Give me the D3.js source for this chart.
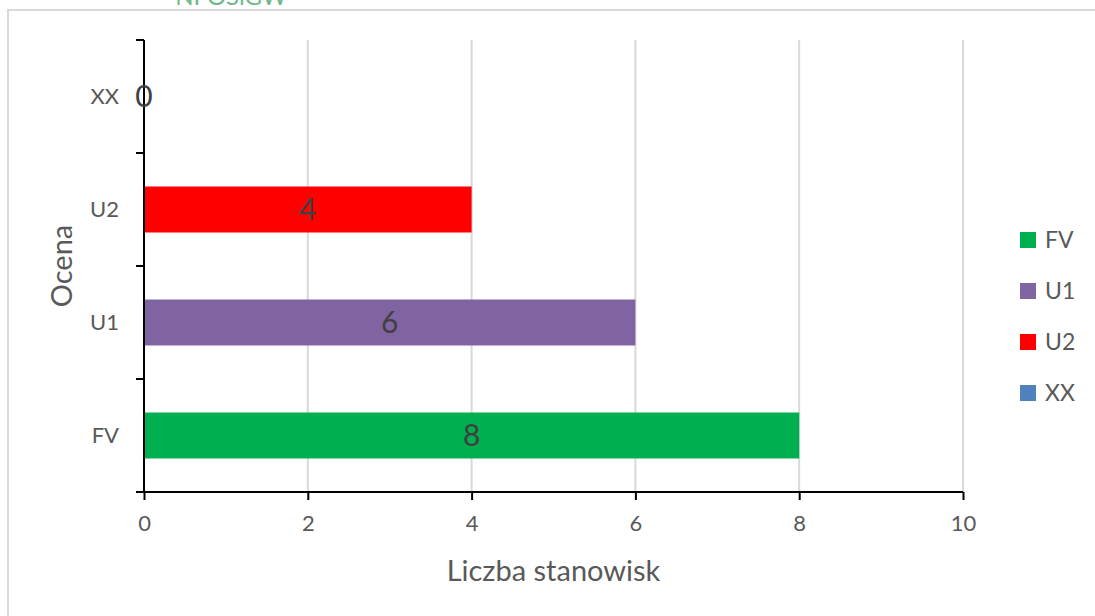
<!DOCTYPE html>
<html>
<head>
<meta charset="utf-8">
<script src="https://cdn.jsdelivr.net/npm/d3@7"></script>
<style>
  body { margin: 0; background: #fff; }
  svg { display: block; }
</style>
</head>
<body>
<script>
// data
var categories = ["FV", "U1", "U2", "XX"];
var values = [8, 6, 4, 0];
var colors = ["#00b050", "#8064a2", "#ff0000", "#4f81bd"];
var xTicks = [0, 2, 4, 6, 8, 10];

var width = 1095, height = 616;
var font = "Lato, 'Open Sans', sans-serif";

var svg = d3.select("body").append("svg")
    .attr("width", width)
    .attr("height", height);

// cut off logo text above the chart frame
svg.append("text")
    .attr("x", 231)
    .attr("y", 5)
    .style("text-anchor", "middle")
    .attr("font-family", font)
    .attr("font-size", "24px")
    .attr("fill", "#6fb88a")
    .text("NFOŚiGW");

// chart frame
svg.append("rect")
    .attr("x", 8)
    .attr("y", 10)
    .attr("width", 1100)
    .attr("height", 640)
    .attr("fill", "#fff")
    .attr("stroke", "#d9d9d9")
    .attr("stroke-width", 2);

var plotLeft = 144, plotRight = 963, plotTop = 40, plotBottom = 492;

var x = d3.scaleLinear().domain([0, 10]).range([plotLeft, plotRight]);
var y = d3.scaleBand().domain(categories).range([plotBottom, plotTop])
    .paddingInner(0.593).paddingOuter(0.2965);

// gridlines
svg.append("g")
    .selectAll("line")
    .data(xTicks.slice(1))
    .join("line")
    .attr("x1", d => x(d))
    .attr("x2", d => x(d))
    .attr("y1", plotTop)
    .attr("y2", plotBottom)
    .attr("stroke", "#d9d9d9")
    .attr("stroke-width", 2);

// bars
svg.append("g")
    .selectAll("rect")
    .data(categories)
    .join("rect")
    .attr("x", x(0))
    .attr("y", d => y(d))
    .attr("width", (d, i) => x(values[i]) - x(0))
    .attr("height", y.bandwidth())
    .attr("fill", (d, i) => colors[i]);

// x axis
var xAxis = svg.append("g")
    .attr("transform", "translate(0," + plotBottom + ")")
    .call(d3.axisBottom(x).tickValues(xTicks).tickSize(8).tickSizeOuter(0).tickPadding(15));
xAxis.select(".domain").attr("d", "M" + (plotLeft - 8) + ",0H" + plotRight)
    .attr("stroke", "#000").attr("stroke-width", 2);
xAxis.selectAll(".tick line").attr("stroke", "#000").attr("stroke-width", 2);
xAxis.selectAll("text")
    .attr("font-family", font)
    .attr("font-size", "22px")
    .attr("fill", "#595959");

// y axis, ticks between categories
var yAxis = svg.append("g")
    .attr("transform", "translate(" + plotLeft + ",0)")
    .call(d3.axisLeft(y).tickSize(0).tickPadding(25));
yAxis.select(".domain").attr("stroke", "#000").attr("stroke-width", 2)
    .attr("d", "M0," + plotTop + "V" + plotBottom);
yAxis.selectAll("text")
    .attr("font-family", font)
    .attr("font-size", "22px")
    .attr("fill", "#595959");
var step = y.step();
svg.append("g")
    .selectAll("line")
    .data(d3.range(categories.length + 1))
    .join("line")
    .attr("x1", plotLeft - 8)
    .attr("x2", plotLeft)
    .attr("y1", d => plotBottom - d * step)
    .attr("y2", d => plotBottom - d * step)
    .attr("stroke", "#000")
    .attr("stroke-width", 2);

// value labels
svg.append("g")
    .selectAll("text")
    .data(categories)
    .join("text")
    .attr("x", (d, i) => (x(0) + x(values[i])) / 2)
    .attr("y", d => y(d) + y.bandwidth() / 2)
    .attr("dy", "0.36em")
    .style("text-anchor", "middle")
    .attr("font-family", font)
    .attr("font-size", "30px")
    .attr("fill", "#404040")
    .text((d, i) => values[i]);

// axis titles
svg.append("text")
    .attr("x", (plotLeft + plotRight) / 2)
    .attr("y", 581)
    .style("text-anchor", "middle")
    .attr("font-family", font)
    .attr("font-size", "29px")
    .attr("fill", "#595959")
    .text("Liczba stanowisk");

svg.append("text")
    .attr("transform", "translate(72," + (plotTop + plotBottom) / 2 + ") rotate(-90)")
    .style("text-anchor", "middle")
    .attr("font-family", font)
    .attr("font-size", "29px")
    .attr("fill", "#595959")
    .text("Ocena");

// legend
var legend = svg.append("g")
    .selectAll("g")
    .data(categories)
    .join("g")
    .attr("transform", (d, i) => "translate(1020," + (240 + i * 51) + ")");
legend.append("rect")
    .attr("x", 0)
    .attr("y", -8)
    .attr("width", 16)
    .attr("height", 16)
    .attr("fill", (d, i) => colors[i]);
legend.append("text")
    .attr("x", 25)
    .attr("y", 0)
    .attr("dy", "0.36em")
    .attr("font-family", font)
    .attr("font-size", "23px")
    .attr("fill", "#595959")
    .text(d => d);
</script>
</body>
</html>
